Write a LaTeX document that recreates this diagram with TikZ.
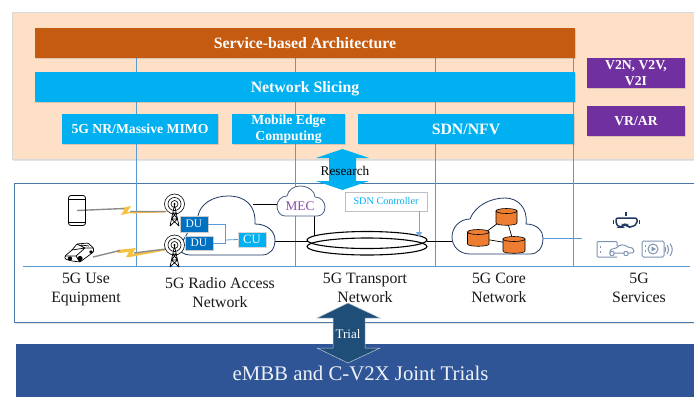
\documentclass[tikz,border=0pt]{standalone}
\usepackage{fontspec}
\setmainfont{Liberation Serif}
\usetikzlibrary{arrows.meta,shadows}
\definecolor{peach}{HTML}{FDE0C5}
\definecolor{rust}{HTML}{C55A11}
\definecolor{sky}{HTML}{00B0F0}
\definecolor{violet}{HTML}{7030A0}
\definecolor{midblue}{HTML}{5B9BD5}
\definecolor{frameblue}{HTML}{4A79A8}
\definecolor{du}{HTML}{0070C0}
\definecolor{navy}{HTML}{1F3864}
\definecolor{trial}{HTML}{1F4E79}
\definecolor{bar}{HTML}{2F5597}
\definecolor{cyl}{HTML}{ED7D31}
\definecolor{icon}{HTML}{7F93B2}
\definecolor{bolt}{HTML}{F5C242}
\tikzset{
  soft/.style={drop shadow={shadow xshift=1pt,shadow yshift=-1pt,opacity=.22,fill=black!60}},
  boxbase/.style={inner sep=0pt,align=center,text=white,font=\bfseries\fontsize{13.7}{16}\selectfont},
  bigbold/.style={font=\bfseries\fontsize{15.8}{18}\selectfont,text height=10.5pt,text depth=0pt},
  lane/.style={midblue,line width=.7pt},
  wire/.style={black,line width=.8pt},
  cloudline/.style={draw=navy,line width=.8pt,fill=white},
  caption/.style={inner sep=0pt,align=center,font=\fontsize{15.8}{19}\selectfont,text=black!90},
  ringline/.style={black,line width=1.1pt},
  graybeam/.style={black!45,line width=1.4pt},
  tower/.style={black,line width=.7pt},
  cyldraw/.style={draw=black,line width=.6pt,fill=cyl},
  icoline/.style={draw=icon,line width=1pt},
}
% name, x1, y1, x2, y2, style, text
\newcommand{\pxbox}[7]{\node[boxbase,#6,minimum width={(#4)-(#2)},minimum height={(#5)-(#3)}] (#1) at ({((#2)+(#4))/2},{((#3)+(#5))/2}) {#7};}
\newcommand{\mycyl}[3]{% x1,x2,ytop
  \pgfmathsetmacro{\cxm}{(#1+#2)/2}\pgfmathsetmacro{\crx}{(#2-#1)/2}
  \draw[cyldraw] (#1,#3) -- (#1,#3+12) .. controls (#1,#3+15) and (#2,#3+15) .. (#2,#3+12) -- (#2,#3) -- cycle;
  \draw[cyldraw] (\cxm,#3) ellipse[x radius=\crx,y radius=2.5];
}
\newcommand{\myantenna}[2]{% x, y of circle centre
  \draw[black,line width=.6pt,fill=white] (#1,#2) circle (10);
  \draw[black,line width=.6pt] (#1,#2) circle (6.5);
  \draw[black,line width=.6pt] (#1,#2) circle (3.5);
  \fill[black] (#1,#2) circle (1.2);
  \draw[tower] (#1,#2+1) -- (#1-4.5,#2+22) (#1,#2+1) -- (#1+4.5,#2+22)
    (#1-1.6,#2+9) -- (#1+1.6,#2+9) (#1-3,#2+15) -- (#1+3,#2+15) (#1-1.6,#2+9) -- (#1+3,#2+15) (#1+1.6,#2+9) -- (#1-3,#2+15) (#1-3,#2+15) -- (#1+4.5,#2+22) (#1+3,#2+15) -- (#1-4.5,#2+22);
}
\begin{document}
\begin{tikzpicture}[x=1pt,y=-1pt]
\useasboundingbox (0,0) rectangle (694,397);
\fill[white] (0,0) rectangle (694,397);
% backgrounds
\fill[black!30,opacity=.35] (13,13) rectangle (694,160.5);
\draw[draw=black!15,fill=peach,line width=.6pt] (12,12) rectangle (695,159);
% lower frame
\fill[black!30,opacity=.3] (15,184) rectangle (694,324);
\draw[frameblue,line width=.9pt,fill=white] (14,183) rectangle (696,322.5);
% lanes
\coordinate (l1t) at (136,58); \coordinate (l1b) at (136,266.5);
\coordinate (l2t) at (295.5,58); \coordinate (l2b) at (295.5,266.5);
\coordinate (l3t) at (435,58); \coordinate (l3b) at (435,266.5);
\coordinate (l4t) at (573.5,58); \coordinate (l4b) at (573.5,266.5);
\coordinate (hl) at (23,266.5); \coordinate (hr) at (690,266.5);
\draw[lane] (l1t) -- (l1b); \draw[lane] (l2t) -- (l2b); \draw[lane] (l3t) -- (l3b); \draw[lane] (l4t) -- (l4b);
\draw[lane] (hl) -- (hr);
% top boxes
\pxbox{sba}{35}{28}{575}{58}{fill=rust,soft,bigbold}{Service-based Architecture}
\pxbox{slice}{35}{72}{575}{102}{fill=sky,soft,bigbold}{Network Slicing}
\pxbox{nr}{62}{114}{218}{144}{fill=sky,soft}{5G NR/Massive MIMO}
\pxbox{mecbox}{232}{114}{345}{144}{fill=sky,soft}{Mobile Edge\\Computing}
\pxbox{sdn}{358}{114}{574}{144}{fill=sky,soft,bigbold}{SDN/NFV}
\pxbox{v2x}{587}{58}{685}{88}{fill=violet,soft}{V2N, V2V,\\V2I}
\pxbox{vrar}{587}{106}{685}{136}{fill=violet,soft}{VR/AR}
% research arrow
\fill[sky] (342.5,149) -- (369,158) -- (356,158) -- (356,181) -- (369,181) -- (342.5,190) -- (316,181) -- (329,181) -- (329,158) -- (316,158) -- cycle;
\node[inner sep=0pt,font=\fontsize{13.3}{15}\selectfont,text=black] (research) at (345,171) {Research};
% bottom bar
\node[fill=bar,inner sep=0pt,minimum width=678,minimum height=53,anchor=north west,text=white] (trialsbar) at (16,344) {};
\node[inner sep=0pt,text=white!92!bar,font=\fontsize{20.8}{24}\selectfont] (trials) at (360.5,373) {eMBB and C-V2X Joint Trials};
% trial arrow
\draw[fill=trial,draw=white!70!trial,line width=.5pt] (348,303) -- (380,318) -- (365,318) -- (365,348) -- (380,348) -- (348,363) -- (317,348) -- (333,348) -- (333,318) -- (317,318) -- cycle;
\node[inner sep=0pt,text=white,font=\fontsize{13}{15}\selectfont] (triallabel) at (348,334) {Trial};
% clouds
\coordinate (ranE) at (275,241); \coordinate (ranT) at (253,204);
\coordinate (mecW) at (277,204); \coordinate (mecS) at (314.5,216);
\coordinate (ringW) at (307.5,241); \coordinate (ringE) at (426.5,241.5); \coordinate (ringT) at (314.5,236);
\coordinate (coreW) at (452,241.5); \coordinate (coreE) at (543,238.5); \coordinate (svcW) at (582,238.5);
\draw[wire] (ranT) -- (mecW);
\draw[wire] (ranE) -- (ringW);
\draw[wire] (mecS) -- (ringT);
\draw[wire] (ringE) -- (coreW);
\draw[cloudline] (198,216) .. controls (200,204) and (213,196) .. (228,196) .. controls (245,196) and (256,205) .. (255,224) .. controls (268,224) and (275,232) .. (275,240) .. controls (275,249) and (270,255) .. (262,255) -- (190,255) .. controls (184,255) and (180,252) .. (179,247) -- cycle;
\draw[cloudline,draw=navy!80] (287,196) .. controls (288,190) and (294,186) .. (300,186) .. controls (308,186) and (315,191) .. (315,197) .. controls (321,197) and (325,202) .. (325,207) .. controls (325,213) and (321,216) .. (317,216) -- (285,216) .. controls (280,216) and (277,211) .. (277,206) .. controls (277,201) and (281,196) .. (287,196) -- cycle;
\node[inner sep=0pt,text=violet!85,font=\fontsize{13.3}{15}\selectfont] (mec) at (300,206) {MEC};
\draw[cloudline] (470,219) .. controls (475,206) and (490,198) .. (505,198) .. controls (518,198) and (528,208) .. (526,224) .. controls (537,224) and (543,231) .. (543,238) .. controls (543,248) and (538,254) .. (530,254) -- (470,254) .. controls (459,254) and (452,246) .. (452,237) .. controls (452,227) and (460,219) .. (470,219) -- cycle;
\draw[lane] (coreE) -- (svcW);
% ring
\draw[ringline] (367,240) ellipse[x radius=60,y radius=8.5];
\draw[ringline] (367,246.5) ellipse[x radius=60,y radius=8.5];
% sdn controller
\pxbox{ctrl}{345}{192}{427}{211}{fill=white,draw=black!25,line width=.7pt,text=sky,font=\fontsize{10.2}{12}\selectfont}{SDN Controller}
\coordinate (ctrlS) at (419,211); \coordinate (ringA) at (419,237);
\draw[midblue!85,line width=1pt,-{Triangle[length=5pt,width=6pt]}] (ctrlS) -- (ringA);
% core contents
\coordinate (cc1) at (506,217); \coordinate (cc2) at (478,238); \coordinate (cc3) at (514,244);
\draw[black,line width=.7pt] (cc1) -- (cc2) -- (cc3) -- (cc1);
\mycyl{496}{517}{211}
\mycyl{467.5}{489}{232}
\mycyl{503}{525}{239}
% beams
\coordinate (phoneC) at (77,210.5); \coordinate (ant1) at (166,211.5);
\coordinate (carC) at (93,257); \coordinate (ant2) at (166,249);
\fill[bolt] (122,208) -- (131,206) -- (127,212) -- (165,211) -- (165,212.5) -- (128,213.5) -- (121,215) -- (124,210) -- cycle;
\draw[graybeam] (phoneC) -- (124,208.5) (130,211.5) -- (ant1);
\fill[bolt] (117,250) -- (136,248) -- (132,254) -- (165,249) -- (165,250.5) -- (130,257) -- (126,257) -- (129,252) -- (118,253) -- cycle;
\draw[graybeam] (carC) -- (120,250.5) (134,253) -- (ant2);
% phone
\draw[black,line width=.8pt,fill=white,rounded corners=2.5pt] (68.5,195.5) rectangle (85.5,225.5);
\draw[black,line width=.5pt] (68.5,199) -- (85.5,199) (68.5,222) -- (85.5,222);
\draw[graybeam] (phoneC) -- (85,210.2);
% car
\draw[black,line width=.7pt,fill=white,rounded corners=1pt] (65,256) -- (72,250) -- (77,244) -- (88,243) -- (93.5,248) -- (93.5,252) -- (80,262) -- (72,261) -- (65,259) -- cycle;
\draw[black,line width=.7pt] (72,250) -- (85,248) -- (93.5,248) (77,244) -- (85,248) (65,256) -- (76,256) -- (85,248) (76,256) -- (80,262) (81,245) -- (89,246);
\fill[black] (70,258.5) circle (2.2) (80,258.5) circle (2.6) (91,252) circle (1.8);
% antennas
\myantenna{174.5}{204}
\myantenna{174.5}{245}
% DU/CU
\pxbox{du1}{180}{216}{208}{232}{fill=du,draw=black!20,line width=.5pt,soft,font=\fontsize{11.5}{13}\selectfont}{DU}
\pxbox{du2}{185}{236}{213}{250}{fill=du,draw=black!20,line width=.5pt,soft,font=\fontsize{11.5}{13}\selectfont}{DU}
\pxbox{cu}{238}{232}{266}{247}{fill=sky,draw=black!15,line width=.5pt,soft,font=\fontsize{12.7}{14}\selectfont}{CU}
\coordinate (tee) at (225.5,240);
\draw[midblue,line width=.8pt] (du1.east) -| (tee);
\draw[midblue,line width=.8pt] (du2.east) -| (tee);
\draw[midblue,line width=.8pt] (tee) -- (cu.west);
% services icons
\draw[navy,line width=1.5pt,fill=white,rounded corners=2pt] (616,218) -- (637,218) -- (637,224) -- (632,227) -- (628,227) -- (626,224.5) -- (624,224.5) -- (622,227) -- (619,227) -- (616,224) -- cycle;
\draw[navy,line width=1.5pt] (613.5,220) -- (613.5,224) (639.5,220) -- (639.5,224) (626,216) -- (626,212);
\draw[icoline,rounded corners=1pt] (617,257) -- (597,257) -- (597,241.5) -- (617,241.5) -- (617,246);
\draw[icoline,line width=1pt] (600,246) -- (600,248) (600,251) -- (600,253);
\draw[icoline,fill=white] (610,253) .. controls (609,249) and (613,249) .. (616,248) .. controls (620,244) and (624,244) .. (628,247) .. controls (632,248) and (634,248) .. (634,251) .. controls (634,253) and (632,253) .. (630,253) -- cycle;
\draw[icoline,fill=white] (612,253.5) circle (2.2) (626,253.5) circle (2.2);
\draw[icoline,rounded corners=1.5pt] (642,241) rectangle (664,257);
\draw[icoline,line width=1pt] (645,245) -- (645,247) (645,250) -- (645,252);
\draw[icoline] (653,249) circle (5);
\fill[icon] (651.5,246.5) -- (656,249) -- (651.5,251.5) -- cycle;
\draw[icoline] (667,245) .. controls (669,248) and (669,251) .. (667,254);
\draw[icoline] (670,243.5) .. controls (673,248) and (673,251) .. (670,256);
\draw[icoline] (665,247) .. controls (666,248) and (666,250) .. (665,252);
% captions
\node[caption] (capue) at (86,289) {5G Use\\Equipment};
\node[caption] (capran) at (220,292.5) {5G Radio Access\\Network};
\node[caption] (captn) at (365,287.5) {5G Transport\\Network};
\node[caption] (capcore) at (499,287.5) {5G Core\\Network};
\node[caption] (capsvc) at (639,287.5) {5G\\Services};
\end{tikzpicture}
\end{document}
